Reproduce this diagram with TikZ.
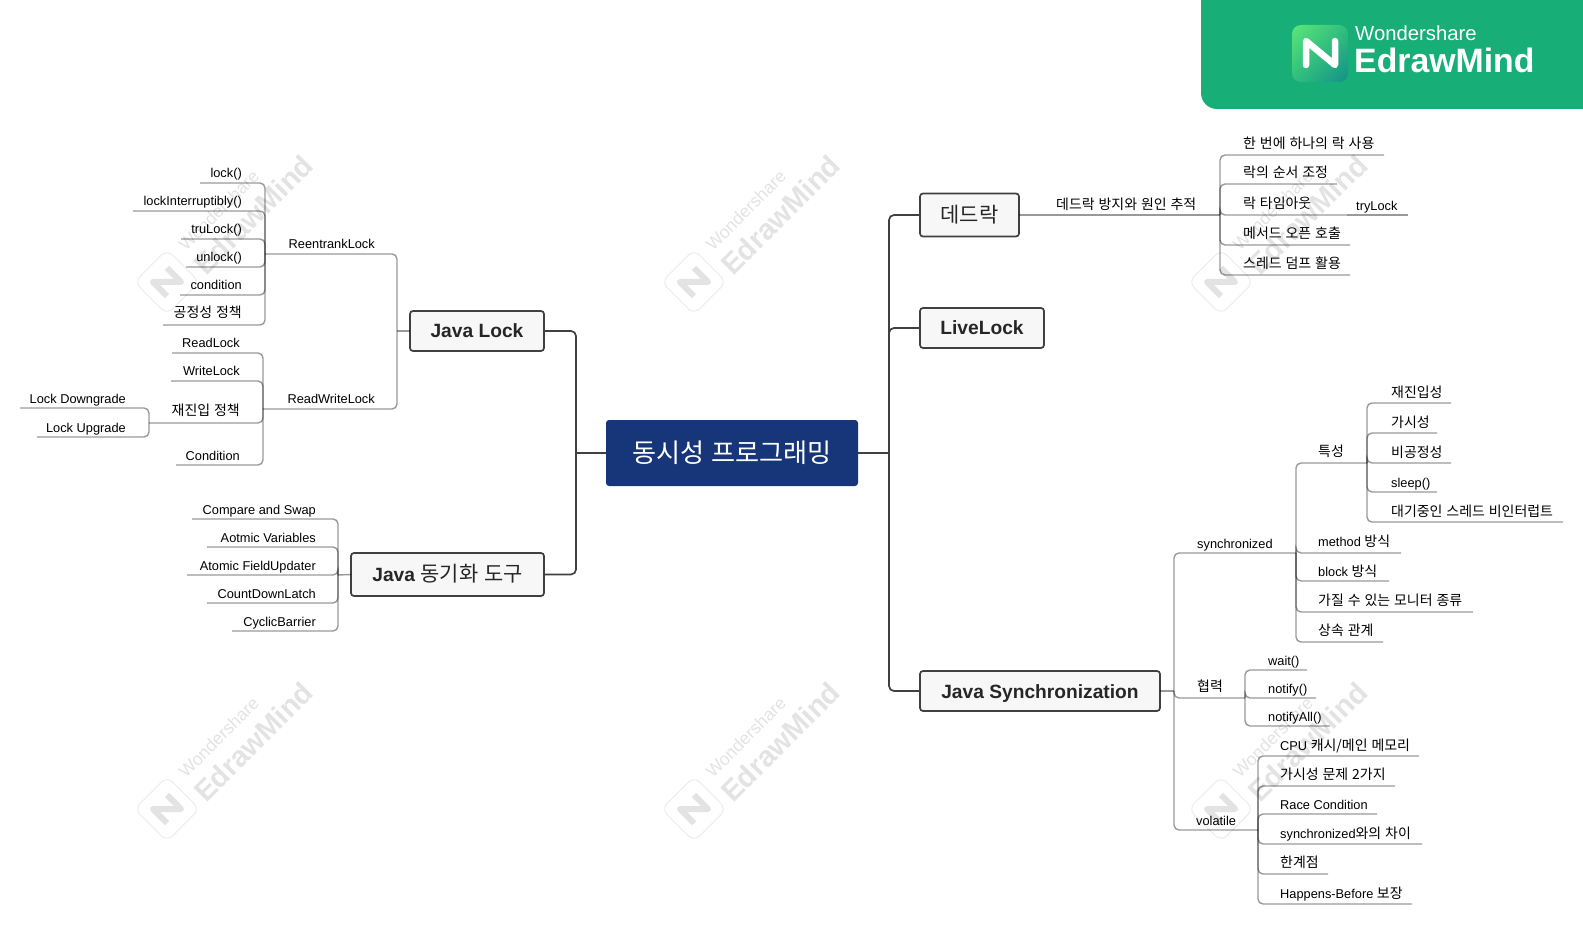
\documentclass[tikz,border=0pt]{standalone}
\usepackage{fontspec}
\usetikzlibrary{shadings}
\setmainfont{Liberation Sans}
\newfontfamily\krfont[Scale=1.09,WordSpace=1.25]{Noto Sans CJK KR}
\newcommand{\krm}[1]{{\krfont #1}}
\newcommand{\kr}[1]{\raisebox{1pt}{\krfont #1}}
\newcommand{\upby}[2]{\raisebox{#1pt}{#2}}
\definecolor{rootblue}{HTML}{17367A}
\definecolor{brandgreen}{HTML}{17AE78}
\definecolor{boxline}{HTML}{404040}
\definecolor{boxfill}{HTML}{F7F7F7}
\definecolor{wmgray}{HTML}{E3E3E3}
\definecolor{logolight}{HTML}{5CE67A}
\definecolor{logomid}{HTML}{2FBF7C}
\definecolor{logodark}{HTML}{148F8A}
\tikzset{
  topic/.style={draw=boxline,fill=boxfill,line width=1.7pt,rounded corners=3pt,inner sep=0pt,outer sep=0pt,
    text height=14pt,text depth=0pt,font=\fontsize{19.2}{22}\selectfont,text=black!85},
  trunk/.style={draw=boxline,line width=1.7pt,rounded corners=5pt},
  branch/.style={draw=black,draw opacity=0.4,line width=1.4pt,rounded corners=5pt},
  labelR/.style={anchor=base east,inner sep=0pt,font=\fontsize{12.8}{15}\selectfont},
  labelL/.style={anchor=base west,inner sep=0pt,font=\fontsize{12.8}{15}\selectfont}
}
\begin{document}
\begin{tikzpicture}[x=1pt,y=-1pt]
\useasboundingbox (0,0) rectangle (1583,925);
% watermarks
\foreach \wx in {167,694,1221} \foreach \wy in {282,809} {
  \begin{scope}[shift={(\wx,\wy)}]
    \node[draw=wmgray!70,line width=1pt,rounded corners=8pt,minimum size=46pt,rotate=45] (wm\wx\wy) at (0,0) {};
    \draw[wmgray,line width=6pt,line join=round,rotate=45] (-10,10) -- (-10,-10) -- (10,10) -- (10,-10);
    \node[rotate=45,anchor=base west,inner sep=0pt,text=wmgray,font=\bfseries\fontsize{29}{29}\selectfont] (wme\wx\wy) at (39,-5) {EdrawMind};
    \node[rotate=45,anchor=base west,inner sep=0pt,text=wmgray,font=\fontsize{17.5}{18}\selectfont] (wmw\wx\wy) at (19,-30) {Wondershare};
  \end{scope}
}
% brand banner
\fill[brandgreen,rounded corners=16pt] (1201,-30) rectangle (1620,109);
\shade[rounded corners=9pt,upper left=logolight,upper right=logomid,lower left=logomid,lower right=logodark] (1292,25) rectangle (1348,82);
\draw[white,line width=6.5pt,line join=round,line cap=round] (1306,65) -- (1306,41) -- (1335,65) -- (1335,41);
\node[anchor=base west,inner sep=0pt,text=white,font=\fontsize{20.3}{21}\selectfont] (brandtop) at (1355,41) {Wondershare};
\node[anchor=base west,inner sep=0pt,text=white,font=\bfseries\fontsize{33.8}{34}\selectfont] (brandname) at (1354,73) {EdrawMind};
% main topics
\node[fill=rootblue,rounded corners=3pt,minimum width=252pt,minimum height=66pt,inner sep=0pt,outer sep=0pt,text=white,font=\fontsize{24}{28}\selectfont] (root) at (732,453) {\krm{동시성 프로그래밍}};
\node[topic,minimum width=134pt,minimum height=40pt] (javalock) at (477,331) {\textbf{Java Lock}};
\node[topic,minimum width=193pt,minimum height=43pt] (javatool) at (447.5,574.5) {\textbf{Java} \krm{동기화 도구}};
\node[topic,minimum width=99pt,minimum height=43pt] (deadlock) at (969.5,215) {\upby{-1}{\krm{데드락}}};
\node[topic,minimum width=124pt,minimum height=40pt] (livelock) at (982,328) {\textbf{LiveLock}};
\node[topic,minimum width=240pt,minimum height=40pt] (javasync) at (1040,691) {\textbf{Java Synchronization}};
\coordinate (lefthub) at (576,453);
\coordinate (righthub) at (889,453);
\draw[trunk] (root.west) -- (lefthub);
\draw[trunk] (root.east) -- (righthub);
\draw[trunk] (javalock.east) -| (lefthub);
\draw[trunk] (javatool.east) -| (lefthub);
\draw[trunk] (righthub) |- (deadlock.west);
\draw[trunk] (righthub) |- (livelock.west);
\draw[trunk] (righthub) |- (javasync.west);
% Java Lock
\coordinate (lockhub) at (397,331);
\coordinate (reenhub) at (265,254);
\coordinate (rwhub) at (263,409);
\draw[branch] (javalock.west) -- (lockhub);
\draw[branch] (reenhub) -| (lockhub);
\draw[branch] (rwhub) -| (lockhub);
\node[labelR] (reen) at (375,249) {ReentrankLock};
\node[labelR] (rwlock) at (375,403) {ReadWriteLock};
\foreach \nm/\yy/\xx/\txt in {lockm/183/200/{lock()},lockint/211/133/{lockInterruptibly()},trylock/239/181/{truLock()},unlockm/267/186/{unlock()},condm/295/180/{condition},fair/325/163/{\upby{1}{\kr{공정성 정책}}}} {
  \coordinate (\nm end) at (\xx,\yy);
  \node[labelR] (\nm) at (242,\yy-5) {\txt};
  \draw[branch] (\nm end) -| (reenhub);
}
\foreach \nm/\yy/\xx/\txt in {readl/353/172/{ReadLock},writel/381/171/{WriteLock},condl/465/176/{Condition}} {
  \coordinate (\nm end) at (\xx,\yy);
  \node[labelR] (\nm) at (240,\yy-5) {\txt};
  \draw[branch] (\nm end) -| (rwhub);
}
\coordinate (reenthub) at (149,423);
\node[labelR] (reent) at (240,416) {\kr{재진입 정책}};
\draw[branch] (reenthub) -| (rwhub);
\foreach \nm/\yy/\xx/\txt in {down/408/20/{Lock Downgrade},up/437/37/{Lock Upgrade}} {
  \coordinate (\nm end) at (\xx,\yy);
  \node[labelR] (\nm) at (126,\yy-5) {\txt};
  \draw[branch] (\nm end) -| (reenthub);
}
% Java tools
\coordinate (toolhub) at (338,575);
\draw[branch] (javatool.west) -- (toolhub);
\foreach \nm/\yy/\xx/\txt in {cas/519/192/{Compare and Swap},atomv/547/207/{Aotmic Variables},atomf/575/187/{Atomic FieldUpdater},cdl/603/207/{CountDownLatch},cb/631/232/{CyclicBarrier}} {
  \coordinate (\nm end) at (\xx,\yy);
  \node[labelR] (\nm) at (316,\yy-5) {\txt};
  \draw[branch] (\nm end) -| (toolhub);
}
% deadlock
\coordinate (dlhub) at (1220,215);
\coordinate (tryhub) at (1347,215);
\coordinate (tryend) at (1408,215);
\node[labelL] (dlcause) at (1056,211) {\kr{데드락 방지와 원인 추적}};
\draw[branch] (deadlock.east) -- (dlhub);
\node[labelL] (trylk) at (1356,211) {tryLock};
\draw[branch] (tryhub) -- (tryend);
\foreach \nm/\yy/\xx/\txt in {onelock/155/1384/{\kr{한 번에 하나의 락 사용}},lockorder/184/1337/{\kr{락의 순서 조정}},locktime/215/1347/{\kr{락 타임아웃}},openc/245/1350/{\kr{메서드 오픈 호출}},dump/275/1350/{\kr{스레드 덤프 활용}}} {
  \coordinate (\nm end) at (\xx,\yy);
  \node[labelL] (\nm) at (1243,\yy-5) {\txt};
  \draw[branch] (dlhub) |- (\nm end);
}
% Java Synchronization
\coordinate (synchub) at (1174,691);
\coordinate (synchend) at (1296,553);
\coordinate (cohub) at (1245,698);
\coordinate (volhub) at (1258,830);
\draw[branch] (javasync.east) -- (synchub);
\draw[branch] (synchub) |- (synchend);
\draw[branch] (synchub) |- (cohub);
\draw[branch] (synchub) |- (volhub);
\node[labelL] (syncn) at (1197,548) {synchronized};
\node[labelL] (cowork) at (1197,692) {\kr{협력}};
\node[labelL] (volat) at (1196,825) {volatile};
\coordinate (prophub) at (1367,463);
\draw[branch] (synchend) |- (prophub);
\node[labelL] (prop) at (1318,457) {\kr{특성}};
\foreach \nm/\yy/\xx/\txt in {reentr/403/1451/{\kr{재진입성}},visib/433/1437/{\kr{가시성}},unfair/463/1451/{\kr{비공정성}},sleepm/492/1437/{sleep()},waitint/522/1563/{\kr{대기중인 스레드 비인터럽트}}} {
  \coordinate (\nm end) at (\xx,\yy);
  \node[labelL] (\nm) at (1391,\yy-5) {\txt};
  \draw[branch] (prophub) |- (\nm end);
}
\foreach \nm/\yy/\xx/\txt in {methodw/553/1401/{\upby{2}{method \krm{방식}}},blockw/581/1389/{block \krm{방식}},monitor/612/1473/{\upby{1}{\kr{가질 수 있는 모니터 종류}}},inherit/642/1383/{\upby{1}{\kr{상속 관계}}}} {
  \coordinate (\nm end) at (\xx,\yy);
  \node[labelL] (\nm) at (1318,\yy-5) {\txt};
  \draw[branch] (synchend) |- (\nm end);
}
\foreach \nm/\yy/\xx/\txt in {waitm/670/1307/{wait()},notifym/698/1316/{notify()},notifya/726/1330/{notifyAll()}} {
  \coordinate (\nm end) at (\xx,\yy);
  \node[labelL] (\nm) at (1268,\yy-5) {\txt};
  \draw[branch] (cohub) |- (\nm end);
}
\foreach \nm/\yy/\xx/\txt in {cache/756/1419/{\upby{1}{CPU \krm{캐시/메인 메모리}}},vprob/786/1395/{\upby{1}{\kr{가시성 문제 2가지}}},race/814/1377/{Race Condition},syncdiff/844/1422/{\upby{1}{synchronized\krm{와의 차이}}},limit/874/1328/{\upby{1}{\kr{한계점}}},happens/904/1412/{\upby{1}{Happens-Before \krm{보장}}}} {
  \coordinate (\nm end) at (\xx,\yy);
  \node[labelL] (\nm) at (1280,\yy-5) {\txt};
  \draw[branch] (volhub) |- (\nm end);
}
\end{tikzpicture}
\end{document}
